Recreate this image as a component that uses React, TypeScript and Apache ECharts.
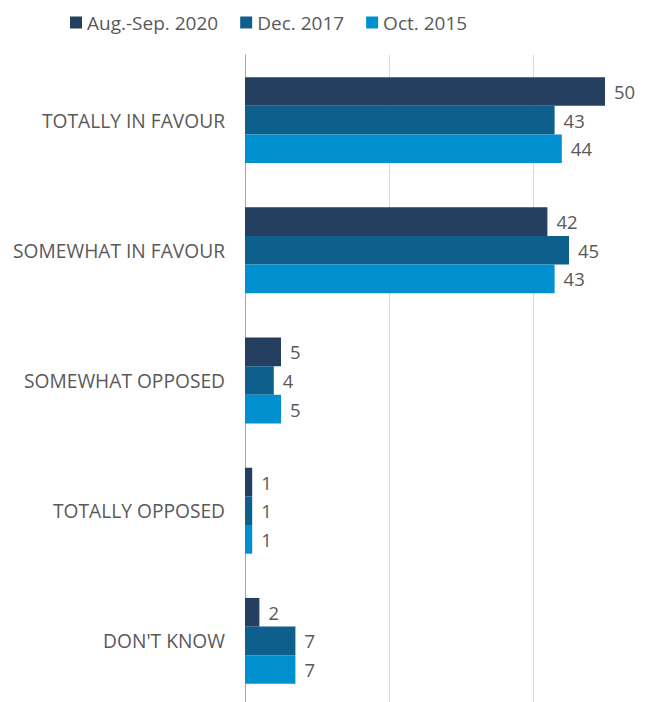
import React, { useEffect, useRef } from "react";
import * as echarts from "echarts";

const categories = [
  "TOTALLY IN FAVOUR",
  "SOMEWHAT IN FAVOUR",
  "SOMEWHAT OPPOSED",
  "TOTALLY OPPOSED",
  "DON'T KNOW",
];
const seriesNames = ["Aug.-Sep. 2020", "Dec. 2017", "Oct. 2015"];
const aug2020 = [50, 42, 5, 1, 2];
const dec2017 = [43, 45, 4, 1, 7];
const oct2015 = [44, 43, 5, 1, 7];
const colors = ["#243F60", "#0E5F8C", "#0090D0"];

const FONT = "'Open Sans', 'Segoe UI', sans-serif";
const TEXT = "#595959";

export default function App() {
  const ref = useRef<HTMLDivElement>(null);
  useEffect(() => {
    if (!ref.current) return;
    const chart = echarts.init(ref.current, undefined, { renderer: "svg" });
    const values = [aug2020, dec2017, oct2015];
    chart.setOption({
      animation: false,
      textStyle: { fontFamily: FONT, color: TEXT },
      legend: {
        left: 65,
        top: 8,
        itemWidth: 12,
        itemHeight: 12,
        itemGap: 22,
        icon: "rect",
        textStyle: { fontSize: 19, color: TEXT, fontFamily: FONT },
        data: seriesNames,
      },
      grid: {
        left: 245,
        top: 55,
        width: 432,
        height: 651,
        containLabel: false,
        outerBoundsMode: "none",
      },
      xAxis: {
        type: "value",
        min: 0,
        max: 60,
        interval: 20,
        axisLabel: { show: false },
        axisLine: { show: false },
        axisTick: { show: false },
        splitLine: { show: true, lineStyle: { color: "#D9D9D9", width: 1 } },
      },
      yAxis: {
        type: "category",
        inverse: true,
        data: categories,
        axisTick: { show: false },
        axisLine: { show: true, lineStyle: { color: "#A6A6A6", width: 1 } },
        axisLabel: { fontSize: 19.2, color: TEXT, margin: 20, fontFamily: FONT },
      },
      series: seriesNames.map((name, i) => ({
        name,
        type: "bar",
        data: values[i],
        barGap: "0%",
        barCategoryGap: "34%",
        itemStyle: { color: colors[i] },
        label: {
          show: true,
          position: "right",
          distance: 9,
          fontSize: 18.5,
          color: TEXT,
          fontFamily: FONT,
        },
      })),
    });
    return () => chart.dispose();
  }, []);
  return (
    <div
      ref={ref}
      style={{ position: "fixed", left: 0, top: 0, width: 663, height: 702, overflow: "hidden", background: "#fff" }}
    />
  );
}
